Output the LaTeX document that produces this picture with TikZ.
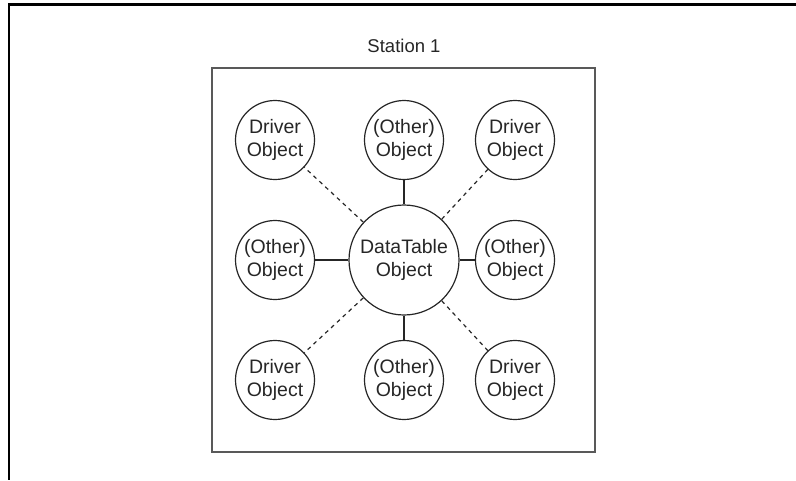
\documentclass[tikz,border=0pt]{standalone}
\usepackage{fontspec}
\setmainfont{Liberation Sans}
\begin{document}
\begin{tikzpicture}[x=1pt,y=-1pt,
  obj/.style={circle,draw=black!85,line width=1.2pt,minimum size=79pt,inner sep=0pt,
    align=center,font=\fontsize{19.5}{23.5}\selectfont,text=black!85},
  hub/.style={obj,minimum size=110pt},
  link/.style={draw=black!85,line width=1.2pt},
  dlink/.style={link,dash pattern=on 4pt off 4pt},
  frame/.style={draw=black,line width=2.5pt},
  station/.style={draw=black!65,line width=1.8pt},
  title/.style={font=\fontsize{18.5}{22}\selectfont,text=black!85}]
\useasboundingbox (0,0) rectangle (796,480);
\coordinate (fr) at (796,4.5);
\coordinate (fc) at (9,4.5);
\coordinate (fb) at (9,480);
\draw[frame] (fr) -- (fc) -- (fb);
\node[title] (st) at (404,46) {Station 1};
\node[station,minimum width=383pt,minimum height=384pt,inner sep=0pt] (box) at (403.5,260) {};
\node[hub] (hub) at (404,260) {DataTable\\Object};
\node[obj] (tl) at (275,140) {Driver\\Object};
\node[obj] (tc) at (404,140) {(Other)\\Object};
\node[obj] (tr) at (515,140) {Driver\\Object};
\node[obj] (ml) at (275,260) {(Other)\\Object};
\node[obj] (mr) at (515,260) {(Other)\\Object};
\node[obj] (bl) at (275,380) {Driver\\Object};
\node[obj] (bc) at (404,380) {(Other)\\Object};
\node[obj] (br) at (515,380) {Driver\\Object};
\draw[link] (hub) -- (tc);
\draw[link] (hub) -- (ml);
\draw[link] (hub) -- (mr);
\draw[link] (hub) -- (bc);
\draw[dlink] (hub) -- (tl);
\draw[dlink] (hub) -- (tr);
\draw[dlink] (hub) -- (bl);
\draw[dlink] (hub) -- (br);
\end{tikzpicture}
\end{document}
